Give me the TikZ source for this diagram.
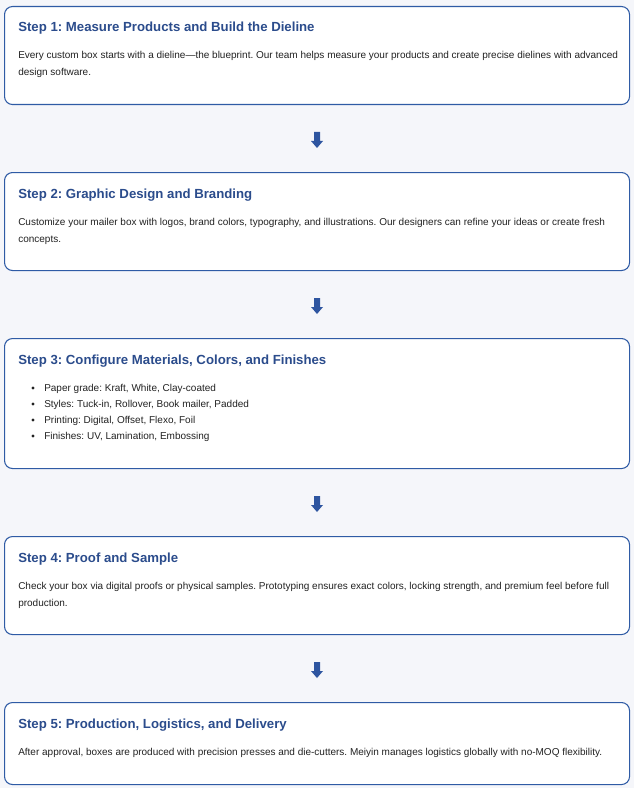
\documentclass[tikz,border=0pt]{standalone}
\usepackage{fontspec}
\setmainfont{Liberation Sans}
\definecolor{bgc}{HTML}{F5F6FA}
\definecolor{bordc}{HTML}{2F5BA5}
\definecolor{titlec}{HTML}{2B4C8C}
\definecolor{bodyc}{HTML}{222222}
\definecolor{arrc}{HTML}{2E55A0}
\tikzset{
  stepcard/.style={draw=bordc, line width=0.8pt, fill=white, rounded corners=6pt, inner sep=0pt, anchor=north west, minimum width=625*0.75pt},
  steptitle/.style={anchor=base west, inner sep=0pt, text=titlec, font=\fontsize{9.9pt}{12pt}\selectfont\bfseries},
  stepbody/.style={anchor=base west, inner sep=0pt, text=bodyc, font=\fontsize{7.5pt}{12.75pt}\selectfont, align=left},
  downglyph/.pic={\fill[arrc] (-3,0) -- (3,0) -- (3,9) -- (6,9) -- (0,16) -- (-6,9) -- (-3,9) -- cycle;},
}
\begin{document}
\frenchspacing
\begin{tikzpicture}[x=0.75pt,y=-0.75pt]
\fill[bgc] (0,0) rectangle (634,788);
\useasboundingbox (0,0) rectangle (634,788);
% boxes
\node[stepcard, minimum height=98*0.75pt] (b1) at (4,6) {};
\node[stepcard, minimum height=98*0.75pt] (b2) at (4,172) {};
\node[stepcard, minimum height=130*0.75pt] (b3) at (4,338) {};
\node[stepcard, minimum height=98*0.75pt] (b4) at (4,536) {};
\node[stepcard, minimum height=82*0.75pt] (b5) at (4,702) {};
% arrows
\coordinate (a1) at (317,132);
\coordinate (a2) at (317,298);
\coordinate (a3) at (317,496);
\coordinate (a4) at (317,662);
\foreach \a in {a1,a2,a3,a4}{ \pic at (\a) {downglyph}; }
% step 1
\node[steptitle] (t1) at (18,32) {Step 1: Measure Products and Build the Dieline};
\node[stepbody] (d1) at (18,76) {Every custom box starts with a dieline—the blueprint. Our team helps measure your products and create precise dielines with advanced\\design software.};
% step 2
\node[steptitle] (t2) at (18,198) {Step 2: Graphic Design and Branding};
\node[stepbody] (d2) at (18,242) {Customize your mailer box with logos, brand colors, typography, and illustrations. Our designers can refine your ideas or create fresh\\concepts.};
% step 3
\node[steptitle] (t3) at (18,364) {Step 3: Configure Materials, Colors, and Finishes};
\foreach \i/\txt in {0/{Paper grade: Kraft, White, Clay-coated},1/{Styles: Tuck-in, Rollover, Book mailer, Padded},2/{Printing: Digital, Offset, Flexo, Foil},3/{Finishes: UV, Lamination, Embossing}}{
  \node[stepbody] (li\i) at (44,391+16*\i) {\txt};
  \fill[bodyc] (33,388+16*\i) circle (1.6);
}
% step 4
\node[steptitle] (t4) at (18,562) {Step 4: Proof and Sample};
\node[stepbody] (d4) at (18,606) {Check your box via digital proofs or physical samples. Prototyping ensures exact colors, locking strength, and premium feel before full\\production.};
% step 5
\node[steptitle] (t5) at (18,728) {Step 5: Production, Logistics, and Delivery};
\node[stepbody] (d5) at (18,755) {After approval, boxes are produced with precision presses and die-cutters. Meiyin manages logistics globally with no-MOQ flexibility.};
\end{tikzpicture}
\end{document}
